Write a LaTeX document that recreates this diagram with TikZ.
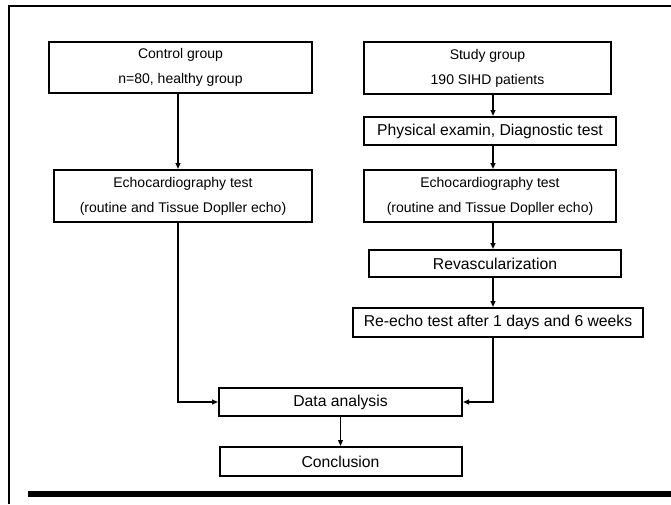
\documentclass[tikz,border=0pt]{standalone}
\usepackage{fontspec}
\setmainfont{Liberation Sans}
\usetikzlibrary{arrows.meta}
\begin{document}
\begin{tikzpicture}[x=0.75pt,y=-0.75pt,
  boxtwo/.style={draw=black,line width=1.5pt,rectangle,inner sep=0pt,align=center,
     font=\fontsize{10.5}{18.75}\selectfont},
  boxone/.style={draw=black,line width=1.5pt,rectangle,inner sep=0pt,align=center,
     font=\fontsize{11.8}{14}\selectfont},
  arr/.style={line width=1.1pt,-{Triangle[length=4.5pt,width=3.6pt]}},
  frameline/.style={line width=1.1pt}]
\useasboundingbox (0,0) rectangle (671,504);
% frame
\coordinate (ftl) at (9,6);
\coordinate (ftr) at (671,6);
\coordinate (fbl) at (9,504);
\draw[frameline] (fbl) -- (ftl) -- (ftr);
\fill[black] (28,491) rectangle (671,497);
% guide coordinates
\coordinate (lx) at (178,0);
\coordinate (rx) at (493,0);
% nodes
\node[boxtwo,minimum width=263*0.75pt,minimum height=51*0.75pt] (ctrl) at (180.5,67.5) {Control group\\n=80, healthy group};
\node[boxtwo,minimum width=247*0.75pt,minimum height=52*0.75pt] (study) at (487.5,68) {Study group\\190 SIHD patients};
\node[boxone,minimum width=252*0.75pt,minimum height=28*0.75pt] (phys) at (490,131) {Physical examin, Diagnostic test};
\node[boxtwo,minimum width=258*0.75pt,minimum height=52*0.75pt] (echoL) at (183,196) {Echocardiography test\\(routine and Tissue Dopller echo)};
\node[boxtwo,minimum width=252*0.75pt,minimum height=52*0.75pt] (echoR) at (490,196) {Echocardiography test\\(routine and Tissue Dopller echo)};
\node[boxone,minimum width=252*0.75pt,minimum height=27*0.75pt] (revasc) at (495,263.5) {Revascularization};
\node[boxone,minimum width=290*0.75pt,minimum height=29*0.75pt] (reecho) at (498,322.5) {Re-echo test after 1 days and 6 weeks};
\node[boxone,minimum width=243*0.75pt,minimum height=28*0.75pt] (data) at (340.5,402) {Data analysis};
\node[boxone,minimum width=242*0.75pt,minimum height=29*0.75pt] (concl) at (340.5,461.5) {Conclusion};
% connectors
\draw[arr] (ctrl.south -| lx) -- (echoL.north -| lx);
\draw[arr] (study.south -| rx) -- (phys.north -| rx);
\draw[arr] (phys.south -| rx) -- (echoR.north -| rx);
\draw[arr] (echoR.south -| rx) -- (revasc.north -| rx);
\draw[arr] (revasc.south -| rx) -- (reecho.north -| rx);
\draw[arr] (echoL.south -| lx) |- (data.west);
\draw[arr] (reecho.south -| rx) |- (data.east);
\draw[arr] (data.south) -- (concl.north);
\end{tikzpicture}
\end{document}
